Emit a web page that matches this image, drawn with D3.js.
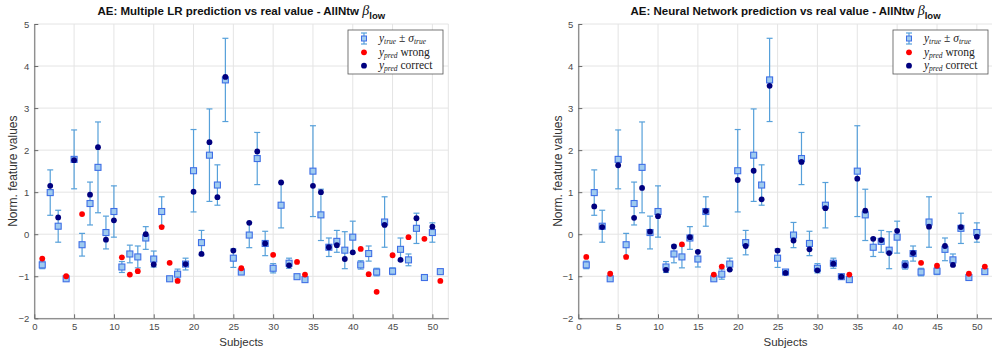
<!DOCTYPE html>
<html>
<head>
<meta charset="utf-8">
<script src="https://cdn.jsdelivr.net/npm/d3@7"></script>
<style>
  body { margin: 0; background: #fff; }
  svg { display: block; }
  text { font-family: "Liberation Sans", Arial, sans-serif; }
</style>
</head>
<body>
<svg id="chart" width="992" height="351"></svg>
<script>
// Subject index on the x axis
const subjects = [1,2,3,4,5,6,7,8,9,10,11,12,13,14,15,16,17,18,19,20,21,22,23,24,25,26,
                  27,28,29,30,31,32,33,34,35,36,37,38,39,40,41,42,43,44,45,46,47,48,49,50,51];

// Real feature value and its standard deviation per subject
const yTrue = [-0.73, 0.99, 0.19, -1.06, 1.78, -0.25, 0.73, 1.59, 0.04, 0.54,
               -0.78, -0.47, -0.54, -0.09, -0.59, 0.54, -1.06, -0.95, -0.71, 1.51,
               -0.20, 1.88, 1.17, 3.67, -0.57, -0.90, -0.02, 1.80, -0.22, -0.81,
               0.69, -0.69, -1.01, -1.08, 1.50, 0.46, -0.31, -0.17, -0.38, -0.07,
               -0.73, -0.46, -0.90, 0.29, -0.88, -0.36, -0.61, 0.14, -1.03, 0.04, -0.89];
const sigmaTrue = [0.09, 0.54, 0.38, 0.03, 0.70, 0.27, 0.51, 1.08, 0.39, 0.61,
                   0.13, 0.21, 0.26, 0.27, 0.19, 0.35, 0.02, 0.12, 0.14, 0.98,
                   0.29, 1.10, 0.48, 0.99, 0.22, 0.03, 0.30, 0.62, 0.29, 0.11,
                   0.54, 0.12, 0.02, 0.02, 1.08, 0.61, 0.22, 0.26, 0.44, 0.38,
                   0.10, 0.18, 0.09, 0.60, 0.08, 0.27, 0.14, 0.36, 0.02, 0.23, 0.04];

// Multiple linear regression predictions
const predLR = [-0.58, 1.15, 0.40, -1.00, 1.76, 0.48, 0.94, 2.07, -0.13, 0.33,
                -0.55, -0.96, -0.88, 0.00, -0.72, 0.17, -0.68, -1.11, -0.71, 1.01,
                -0.47, 2.19, 0.88, 3.74, -0.39, -0.81, 0.27, 1.97, -0.22, -0.49,
                1.23, -0.74, -0.66, -0.96, 1.15, 1.00, -0.31, -0.26, -0.59, -0.43,
                -0.35, -0.95, -1.37, 0.22, -0.50, -0.61, -0.07, 0.38, -0.11, 0.18, -1.11];
const wrongLR = [1, 4, 6, 11, 12, 13, 16, 17, 18, 26, 30, 33, 34, 41, 42, 43, 45, 47, 49, 51];

// Neural network predictions
const predNN = [-0.54, 0.66, 0.17, -0.94, 1.64, -0.54, 0.39, 1.10, 0.06, 0.43,
                -0.85, -0.29, -0.24, -0.07, -0.42, 0.55, -0.96, -0.77, -0.84, 1.29,
                -0.28, 1.51, 0.83, 3.53, -0.39, -0.92, -0.15, 1.72, -0.36, -0.86,
                0.62, -0.70, -1.01, -0.96, 1.32, 0.56, -0.11, -0.14, -0.45, 0.08,
                -0.74, -0.45, -0.68, 0.18, -0.75, -0.28, -0.73, 0.17, -0.94, -0.06, -0.77];
const wrongNN = [1, 4, 6, 13, 17, 18, 34, 43, 45, 49, 51];

const xTicks = [0, 5, 10, 15, 20, 25, 30, 35, 40, 45, 50];
const yTicks = [-2, -1, 0, 1, 2, 3, 4, 5];
const xDomain = [0, 52];
const yDomain = [-2, 5];

const panelDefs = [
  { title: "AE: Multiple LR prediction vs real value - AllNtw", pred: predLR, wrong: wrongLR,
    left: 34.3, right: 448.3, legendX: 348, ylabelX: 13 },
  { title: "AE: Neural Network prediction vs real value - AllNtw", pred: predNN, wrong: wrongNN,
    left: 578.3, right: 992.8, legendX: 893, ylabelX: 558 }
];

const plotTop = 24, plotBottom = 318.3;
const C = {
  grid: "#e4e4e4",
  axis: "#6a6a6a",
  tickText: "#4a4a4a",
  err: "#56a0da",
  sqEdge: "#3f6fe6",
  sqFill: "#9fcbef",
  wrong: "#ff0000",
  correct: "#00007f"
};
const sans = "'Liberation Sans', Arial, sans-serif";
const serif = "'Liberation Serif', 'DejaVu Serif', serif";

const svg = d3.select("#chart");

panelDefs.forEach(p => {
  const x = d3.scaleLinear().domain(xDomain).range([p.left, p.right]);
  const y = d3.scaleLinear().domain(yDomain).range([plotBottom, plotTop]);
  const g = svg.append("g");

  // grid
  const grid = g.append("g").attr("stroke", C.grid).attr("stroke-width", 1);
  grid.selectAll(".gx").data(xTicks).join("line")
    .attr("x1", d => x(d)).attr("x2", d => x(d)).attr("y1", plotTop).attr("y2", plotBottom);
  grid.selectAll(".gy").data(yTicks).join("line")
    .attr("x1", p.left).attr("x2", p.right).attr("y1", d => y(d)).attr("y2", d => y(d));
  grid.append("line").attr("x1", x(xDomain[1])).attr("x2", x(xDomain[1]))
    .attr("y1", plotTop).attr("y2", plotBottom);

  // axes (ticks point inward)
  const ax = g.append("g").attr("transform", `translate(0,${plotBottom})`)
    .call(d3.axisBottom(x).tickValues(xTicks).tickFormat(d3.format("d"))
      .tickSize(-4).tickSizeOuter(0).tickPadding(5));
  const ay = g.append("g").attr("transform", `translate(${p.left},0)`)
    .call(d3.axisLeft(y).tickValues(yTicks).tickFormat(d3.format("d"))
      .tickSize(-4).tickSizeOuter(0).tickPadding(5));
  [ax, ay].forEach(a => {
    a.attr("font-family", null);
    a.select(".domain").attr("stroke", C.axis);
    a.selectAll(".tick line").attr("stroke", C.axis);
    a.selectAll(".tick text").attr("fill", C.tickText)
      .style("font-family", sans).style("font-size", "9.5px");
  });

  // error bars
  const eb = g.append("g").attr("stroke", C.err).attr("stroke-width", 1.2).attr("fill", "none");
  subjects.forEach((s, i) => {
    const cx = x(s), y1 = y(yTrue[i] + sigmaTrue[i]), y2 = y(yTrue[i] - sigmaTrue[i]);
    eb.append("line").attr("x1", cx).attr("x2", cx).attr("y1", y1).attr("y2", y2);
    eb.append("line").attr("x1", cx - 3).attr("x2", cx + 3).attr("y1", y1).attr("y2", y1);
    eb.append("line").attr("x1", cx - 3).attr("x2", cx + 3).attr("y1", y2).attr("y2", y2);
  });
  g.append("g").selectAll("rect").data(subjects).join("rect")
    .attr("x", d => x(d) - 3).attr("y", (d, i) => y(yTrue[i]) - 3)
    .attr("width", 6).attr("height", 6)
    .attr("fill", C.sqFill).attr("stroke", C.sqEdge).attr("stroke-width", 1.1);

  // predictions
  g.append("g").selectAll("circle").data(subjects).join("circle")
    .attr("cx", d => x(d)).attr("cy", (d, i) => y(p.pred[i])).attr("r", 2.9)
    .attr("fill", d => p.wrong.includes(d) ? C.wrong : C.correct);

  // title
  const cx = (p.left + p.right) / 2;
  const t = g.append("text").attr("x", cx).attr("y", 15).attr("text-anchor", "middle")
    .attr("fill", "#111").style("font-family", sans)
    .style("font-size", "11.5px").style("font-weight", "bold");
  t.append("tspan").text(p.title + " ");
  t.append("tspan").text("β").style("font-family", serif)
    .style("font-style", "italic").style("font-weight", "normal").style("font-size", "14px");
  t.append("tspan").text("low").attr("dy", 3.5).style("font-size", "9.5px");

  // axis labels
  g.append("text").attr("x", cx).attr("y", 346).attr("text-anchor", "middle")
    .attr("fill", "#333").style("font-family", sans).style("font-size", "11.5px").text("Subjects");
  g.append("text").attr("transform", `translate(${p.ylabelX + 4},${(plotTop + plotBottom) / 2}) rotate(-90)`)
    .attr("text-anchor", "middle").attr("fill", "#333").style("font-family", sans)
    .style("font-size", "12px").text("Norm. feature values");

  // legend
  const lg = g.append("g").attr("transform", `translate(${p.legendX},30)`);
  lg.append("rect").attr("width", 95).attr("height", 44).attr("fill", "#fff")
    .attr("stroke", "#555").attr("stroke-width", 0.8);
  const ix = 16;
  lg.append("line").attr("x1", ix).attr("x2", ix).attr("y1", 3).attr("y2", 14)
    .attr("stroke", C.err).attr("stroke-width", 1.2);
  [3, 14].forEach(yy => lg.append("line").attr("x1", ix - 3).attr("x2", ix + 3)
    .attr("y1", yy).attr("y2", yy).attr("stroke", C.err).attr("stroke-width", 1.2));
  lg.append("rect").attr("x", ix - 2.5).attr("y", 6).attr("width", 5).attr("height", 5)
    .attr("fill", C.sqFill).attr("stroke", C.sqEdge).attr("stroke-width", 1);
  lg.append("circle").attr("cx", ix).attr("cy", 22.3).attr("r", 2.9).attr("fill", C.wrong);
  lg.append("circle").attr("cx", ix).attr("cy", 35.7).attr("r", 2.9).attr("fill", C.correct);

  function mathLabel(yPos, parts) {
    const txt = lg.append("text").attr("x", 31).attr("y", yPos).attr("fill", "#222")
      .style("font-family", serif).style("font-size", "11.5px");
    parts.forEach(([s, opt]) => {
      const ts = txt.append("tspan").text(s);
      if (opt.it) ts.style("font-style", "italic");
      if (opt.sub) ts.style("font-size", "7.5px");
      if (opt.dy) ts.attr("dy", opt.dy);
    });
  }
  mathLabel(12, [["y", {it: true}], ["true", {it: true, sub: true, dy: 2}],
                 [" ± ", {dy: -2}], ["σ", {it: true}], ["true", {it: true, sub: true, dy: 2}]]);
  mathLabel(25.5, [["y", {it: true}], ["pred", {it: true, sub: true, dy: 2}], [" wrong", {dy: -2}]]);
  mathLabel(39, [["y", {it: true}], ["pred", {it: true, sub: true, dy: 2}], [" correct", {dy: -2}]]);
});
</script>
</body>
</html>
